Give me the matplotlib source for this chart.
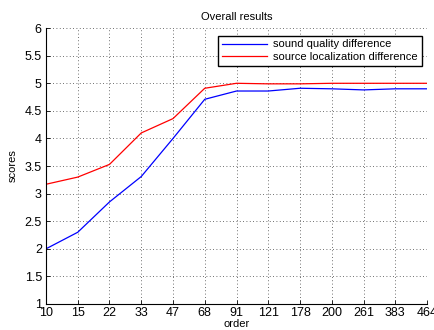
import matplotlib.pyplot as plt

orders = ['10', '15', '22', '33', '47', '68', '91', '121', '178', '200', '261', '383', '464']
sound_quality = [2.0, 2.30, 2.85, 3.31, 4.0, 4.71, 4.86, 4.86, 4.91, 4.90, 4.88, 4.90, 4.90]
source_localization = [3.17, 3.30, 3.53, 4.10, 4.36, 4.91, 5.0, 4.99, 4.99, 5.0, 5.0, 5.0, 5.0]
yticks = [1, 1.5, 2, 2.5, 3, 3.5, 4, 4.5, 5, 5.5, 6]

plt.rcParams['font.family'] = 'Liberation Sans'
fig = plt.figure(figsize=(4.35, 3.3), dpi=100)
ax = fig.add_axes([0.1057, 0.0788, 0.876, 0.836])

x = range(len(orders))
ax.plot(x, sound_quality, color='blue', lw=0.9, label='sound quality difference')
ax.plot(x, source_localization, color='red', lw=0.9, label='source localization difference')

ax.set_xlim(0, len(orders) - 1)
ax.set_ylim(1, 6)
ax.set_xticks(list(x))
ax.set_xticklabels(orders)
ax.set_yticks(yticks)
ax.set_yticklabels(['%g' % v for v in yticks])
ax.tick_params(direction='in', length=3, width=0.6, labelsize=9)
ax.tick_params(axis='x', pad=2)
ax.tick_params(axis='y', pad=3)
ax.grid(True, color='0.25', linestyle=(0, (1, 3)), linewidth=0.6)
for s in ['top', 'right']:
    ax.spines[s].set_visible(False)
for s in ['left', 'bottom']:
    ax.spines[s].set_linewidth(0.8)

ax.set_title('Overall results', fontsize=8, pad=6)
ax.set_xlabel('order', fontsize=8, labelpad=0)
ax.set_ylabel('scores', fontsize=8, labelpad=5)

leg = ax.legend(loc='upper right', bbox_to_anchor=(0.995, 0.985), fontsize=8, fancybox=False,
                framealpha=1, edgecolor='black', handlelength=4.0, borderpad=0.35,
                labelspacing=0.25, borderaxespad=0.3, handletextpad=0.6)
leg.get_frame().set_linewidth(1.0)

fig.savefig('out.png', dpi=100)
